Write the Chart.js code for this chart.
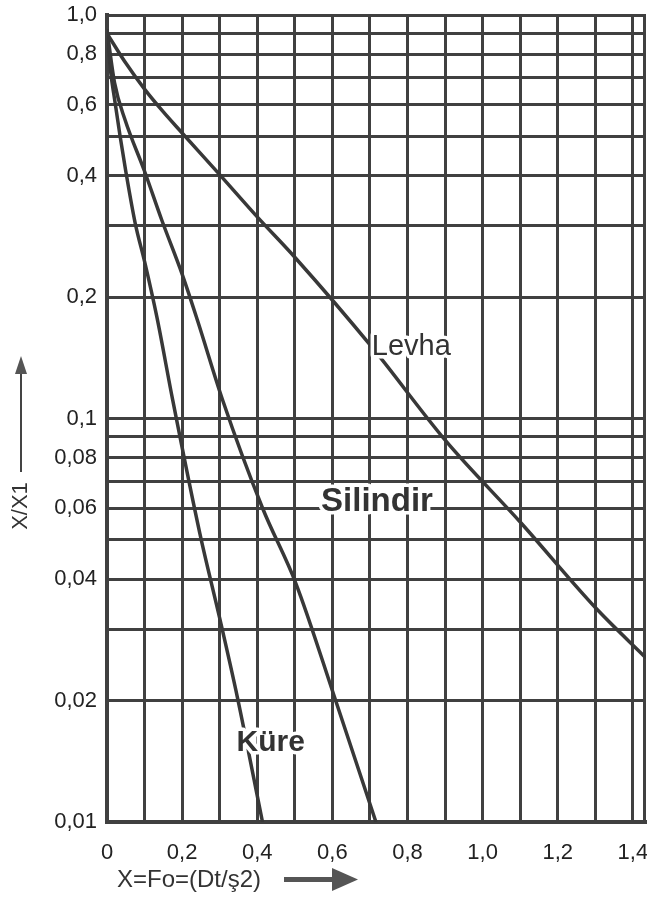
<!DOCTYPE html>
<html>
<head>
<meta charset="utf-8">
<script src="https://cdn.jsdelivr.net/npm/chart.js@4.4.1/dist/chart.umd.min.js"></script>
<style>
  html, body { margin: 0; padding: 0; background: #fff; }
  canvas { display: block; }
</style>
</head>
<body>
<canvas id="chart_kurumaEgrisi" width="647" height="900"></canvas>
<script>
// Fourier number (x) and relative moisture X/X1 (y) for each geometry
var foLevha = [0, 0.05, 0.1, 0.15, 0.2, 0.294, 0.4, 0.5, 0.706, 0.902, 1.103, 1.3, 1.435];
var xLevha = [0.90, 0.76, 0.655, 0.575, 0.51, 0.408, 0.316, 0.251, 0.150, 0.088, 0.055, 0.034, 0.0255];

var foSilindir = [0, 0.02, 0.048, 0.1, 0.146, 0.2, 0.241, 0.308, 0.414, 0.503, 0.605, 0.716];
var xSilindir = [0.92, 0.68, 0.55, 0.41, 0.31, 0.228, 0.175, 0.111, 0.060, 0.039, 0.0205, 0.01];

var foKure = [0, 0.01, 0.02, 0.035, 0.05, 0.075, 0.1, 0.133, 0.175, 0.247, 0.3, 0.347, 0.414];
var xKure = [0.92, 0.72, 0.62, 0.5, 0.41, 0.305, 0.245, 0.178, 0.111, 0.052, 0.032, 0.0204, 0.01];

// grid positions and which of them carry a label
var xGridValues = [0, 0.1, 0.2, 0.3, 0.4, 0.5, 0.6, 0.7, 0.8, 0.9, 1.0, 1.1, 1.2, 1.3, 1.4];
var xTickLabels = [0, 0.2, 0.4, 0.6, 0.8, 1.0, 1.2, 1.4];
var yGridValues = [0.01, 0.02, 0.03, 0.04, 0.05, 0.06, 0.07, 0.08, 0.09,
                   0.1, 0.2, 0.3, 0.4, 0.5, 0.6, 0.7, 0.8, 0.9, 1.0];
var yTickLabels = [1.0, 0.8, 0.6, 0.4, 0.2, 0.1, 0.08, 0.06, 0.04, 0.02, 0.01];

var seriesNames = ['Levha', 'Silindir', 'Küre'];

var INK = '#404040';
var FONT = '"Liberation Sans", Arial, sans-serif';

function toPoints(xs, ys) {
    return xs.map(function(v, i) { return { x: v, y: ys[i] }; });
}

function hasValue(list, v) {
    return list.some(function(t) { return Math.abs(t - v) < 1e-9; });
}

function commaNumber(v, digits) {
    return v.toFixed(digits).replace('.', ',');
}

// no extra room for the outer tick labels, the grid fills the canvas edge
function noEdgePadding(scale) {
    scale.paddingLeft = 0;
    scale.paddingRight = 0;
    scale.paddingTop = 0;
    scale.paddingBottom = 0;
}

var lineStyle = {
    borderColor: '#383838',
    borderWidth: 3.5,
    pointRadius: 0,
    fill: false,
    cubicInterpolationMode: 'monotone'
};

var chart_kurumaEgrisi = new Chart(document.getElementById('chart_kurumaEgrisi'), {
    type: 'line',
    data: {
        datasets: [
            Object.assign({ label: seriesNames[0], data: toPoints(foLevha, xLevha) }, lineStyle),
            Object.assign({ label: seriesNames[1], data: toPoints(foSilindir, xSilindir) }, lineStyle),
            Object.assign({ label: seriesNames[2], data: toPoints(foKure, xKure) }, lineStyle)
        ]
    },
    options: {
        animation: false,
        responsive: false,
        layout: { padding: { top: 15, right: 1, left: 0, bottom: 0 } },
        plugins: {
            legend: { display: false },
            tooltip: { enabled: false }
        },
        scales: {
            x: {
                type: 'linear',
                min: 0,
                max: 1.435,
                grid: { color: INK, lineWidth: 3, drawTicks: false },
                border: { display: true, color: INK, width: 4 },
                afterBuildTicks: function(scale) {
                    scale.ticks = xGridValues.map(function(v) { return { value: v }; });
                },
                afterFit: function(scale) {
                    scale.height = 78;
                    noEdgePadding(scale);
                },
                ticks: {
                    autoSkip: false,
                    maxRotation: 0,
                    padding: 18,
                    color: '#222',
                    font: { family: FONT, size: 22 },
                    callback: function(value) {
                        if (!hasValue(xTickLabels, value)) return '';
                        return value === 0 ? '0' : commaNumber(value, 1);
                    }
                }
            },
            y: {
                type: 'logarithmic',
                min: 0.01,
                max: 1,
                grid: { color: INK, lineWidth: 3, drawTicks: false },
                border: { display: true, color: INK, width: 4 },
                afterBuildTicks: function(scale) {
                    scale.ticks = yGridValues.map(function(v) { return { value: v }; });
                },
                afterFit: function(scale) {
                    scale.width = 107;
                    noEdgePadding(scale);
                },
                ticks: {
                    autoSkip: false,
                    padding: 10,
                    color: '#222',
                    font: { family: FONT, size: 22 },
                    callback: function(value) {
                        if (!hasValue(yTickLabels, value)) return '';
                        if (value >= 0.999) return '1,0';
                        return commaNumber(value, value < 0.095 ? 2 : 1);
                    }
                }
            }
        }
    },
    plugins: [{
        id: 'frameAndLabels',
        beforeDatasetsDraw: function(chart) {
            // right edge of the graph paper
            var ctx = chart.ctx, a = chart.chartArea;
            ctx.save();
            ctx.strokeStyle = INK;
            ctx.lineWidth = 3;
            ctx.beginPath();
            ctx.moveTo(a.right - 1.5, a.top);
            ctx.lineTo(a.right - 1.5, a.bottom);
            ctx.stroke();
            ctx.restore();
        },
        afterDatasetsDraw: function(chart) {
            var ctx = chart.ctx;
            var xs = chart.scales.x, ys = chart.scales.y;
            // curve names, written over the grid with a white halo
            var names = [
                { text: seriesNames[0], fo: 0.705, v: 0.150, font: '29px ' + FONT },
                { text: seriesNames[1], fo: 0.57, v: 0.062, font: 'bold 33px ' + FONT },
                { text: seriesNames[2], fo: 0.345, v: 0.0157, font: 'bold 30px ' + FONT }
            ];
            ctx.save();
            ctx.textAlign = 'left';
            ctx.textBaseline = 'middle';
            names.forEach(function(n) {
                var px = xs.getPixelForValue(n.fo);
                var py = ys.getPixelForValue(n.v);
                ctx.font = n.font;
                ctx.lineJoin = 'round';
                ctx.strokeStyle = '#fff';
                ctx.lineWidth = 7;
                ctx.strokeText(n.text, px, py);
                ctx.fillStyle = '#333';
                ctx.fillText(n.text, px, py);
            });
            ctx.restore();
        },
        afterDraw: function(chart) {
            var ctx = chart.ctx;
            ctx.save();
            ctx.fillStyle = '#333';
            ctx.strokeStyle = '#444';

            // x axis title with a heavy arrow
            ctx.font = '24px ' + FONT;
            ctx.textAlign = 'left';
            ctx.textBaseline = 'middle';
            ctx.fillText('X=Fo=(Dt/ş2)', 117, 880);
            ctx.fillStyle = '#555';
            ctx.fillRect(284, 877, 50, 5);
            ctx.beginPath();
            ctx.moveTo(332, 868);
            ctx.lineTo(358, 879.5);
            ctx.lineTo(332, 891);
            ctx.closePath();
            ctx.fill();

            // y axis title with a thin upward arrow
            ctx.fillStyle = '#333';
            ctx.save();
            ctx.translate(21, 506);
            ctx.rotate(-Math.PI / 2);
            ctx.textAlign = 'center';
            ctx.font = '22px ' + FONT;
            ctx.fillText('X/X1', 0, 0);
            ctx.restore();
            ctx.lineWidth = 2;
            ctx.beginPath();
            ctx.moveTo(21, 472);
            ctx.lineTo(21, 370);
            ctx.stroke();
            ctx.fillStyle = '#555';
            ctx.beginPath();
            ctx.moveTo(21, 356);
            ctx.lineTo(27, 374);
            ctx.lineTo(15, 374);
            ctx.closePath();
            ctx.fill();
            ctx.restore();
        }
    }]
});
</script>
</body>
</html>
